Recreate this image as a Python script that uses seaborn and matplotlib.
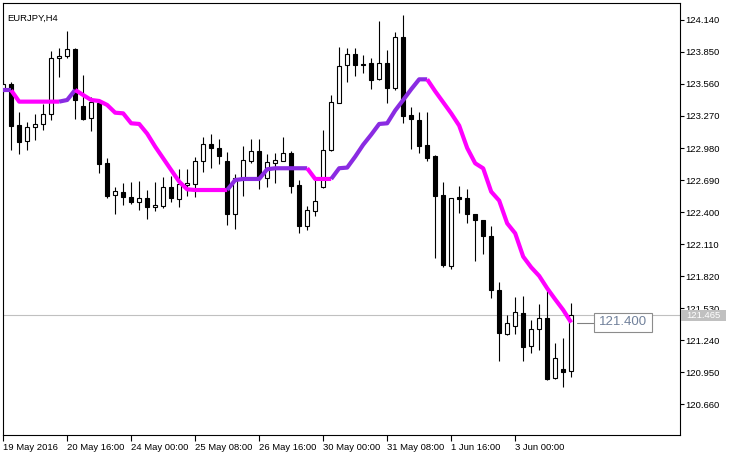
import numpy as np
import pandas as pd
import matplotlib
matplotlib.use('Agg')
import matplotlib.pyplot as plt
from matplotlib.patches import Rectangle
import seaborn as sns

# EURJPY H4 candles
opens = [123.512, 123.557, 123.189, 123.041, 123.174, 123.195, 123.285, 123.792, 123.816, 123.877,
         123.361, 123.249, 123.385, 122.842, 122.552, 122.579, 122.534, 122.495, 122.525, 122.443,
         122.458, 122.624, 122.516, 122.645, 122.652, 122.860, 123.014, 122.978, 122.860, 122.380,
         122.706, 122.863, 122.953, 122.706, 122.848, 122.863, 122.932, 122.646, 122.274, 122.413,
         122.630, 122.962, 123.391, 123.729, 123.829, 123.738, 123.750, 123.602, 123.750, 123.521,
         123.982, 123.279, 123.234, 123.008, 122.911, 122.555, 121.912, 122.534, 122.525, 122.380,
         122.326, 122.187, 121.692, 121.293, 121.366, 121.484, 121.188, 121.339, 121.438, 120.895,
         120.980, 120.961]
highs = [123.600, 123.581, 123.303, 123.219, 123.285, 123.376, 123.859, 123.889, 124.040, 123.883,
         123.641, 123.445, 123.415, 122.887, 122.630, 122.667, 122.676, 122.682, 122.600, 122.670,
         122.721, 122.730, 122.787, 122.790, 122.896, 123.083, 123.110, 123.065, 122.947, 122.745,
         122.999, 123.059, 123.059, 122.923, 122.938, 123.083, 122.953, 122.691, 122.455, 122.697,
         123.144, 123.460, 123.898, 123.889, 123.889, 123.823, 123.792, 124.130, 123.868, 124.028,
         124.185, 123.355, 123.310, 123.303, 122.917, 122.670, 122.530, 122.636, 122.606, 122.385,
         122.330, 122.277, 121.764, 121.466, 121.632, 121.644, 121.423, 121.571, 121.695, 121.212,
         121.257, 121.574]
lows = [123.480, 122.962, 122.923, 122.962, 123.053, 123.143, 123.234, 123.626, 123.792, 123.243,
        123.234, 123.137, 122.751, 122.531, 122.380, 122.464, 122.470, 122.419, 122.338, 122.410,
        122.440, 122.492, 122.449, 122.546, 122.540, 122.760, 122.796, 122.836, 122.283, 122.250,
        122.546, 122.848, 122.606, 122.624, 122.661, 122.863, 122.570, 122.214, 122.238, 122.365,
        122.620, 122.950, 123.385, 123.581, 123.635, 123.663, 123.512, 123.600, 123.391, 123.506,
        123.204, 122.968, 122.932, 122.866, 121.988, 121.906, 121.888, 122.395, 122.298, 121.960,
        122.018, 121.619, 121.055, 121.284, 121.293, 121.055, 121.121, 121.152, 120.880, 120.886,
        120.820, 120.910]
closes = [123.557, 123.183, 123.038, 123.171, 123.198, 123.285, 123.792, 123.816, 123.874, 123.415,
          123.246, 123.397, 122.839, 122.549, 122.591, 122.540, 122.492, 122.525, 122.449, 122.464,
          122.624, 122.525, 122.652, 122.660, 122.860, 123.014, 122.978, 122.911, 122.380, 122.706,
          122.869, 122.953, 122.706, 122.854, 122.869, 122.932, 122.637, 122.274, 122.419, 122.501,
          122.959, 123.394, 123.720, 123.829, 123.729, 123.729, 123.599, 123.750, 123.521, 123.982,
          123.273, 123.240, 123.002, 122.887, 122.549, 121.921, 122.525, 122.522, 122.380, 122.326,
          122.187, 121.692, 121.303, 121.399, 121.493, 121.182, 121.342, 121.438, 120.892, 121.076,
          120.949, 121.466]

# indicator line values per bar
indicator = [123.503, 123.503, 123.400, 123.400, 123.400, 123.400, 123.400, 123.400, 123.415, 123.506,
             123.460, 123.415, 123.406, 123.370, 123.300, 123.294, 123.204, 123.198, 123.110, 122.993,
             122.887, 122.781, 122.676, 122.606, 122.600, 122.600, 122.600, 122.600, 122.600, 122.690,
             122.700, 122.700, 122.700, 122.788, 122.797, 122.797, 122.797, 122.797, 122.797, 122.700,
             122.700, 122.700, 122.797, 122.803, 122.902, 123.010, 123.101, 123.198, 123.204, 123.320,
             123.415, 123.512, 123.602, 123.602, 123.494, 123.394, 123.294, 123.183, 122.980, 122.842,
             122.796, 122.585, 122.504, 122.298, 122.208, 121.997, 121.900, 121.822, 121.710, 121.610,
             121.514, 121.400]

bid = 121.465
last_value = 121.400
yticks = [120.660, 120.950, 121.240, 121.530, 121.820, 122.110, 122.400, 122.690, 122.980,
          123.270, 123.560, 123.850, 124.140]
xtick_pos = [0, 8, 16, 24, 32, 40, 48, 56, 64]
xtick_labels = ['19 May 2016', '20 May 16:00', '24 May 00:00', '25 May 08:00', '26 May 16:00',
                '30 May 00:00', '31 May 08:00', '1 Jun 16:00', '3 Jun 00:00']

df = pd.DataFrame({'open': opens, 'high': highs, 'low': lows, 'close': closes})
df['bar'] = np.arange(len(df))

UP = '#8A2BE2'
DOWN = '#FF00FF'

sns.set_style('white')
plt.rcParams['font.family'] = ['Liberation Sans', 'DejaVu Sans']

W, H = 732, 455
fig = plt.figure(figsize=(W / 100, H / 100), dpi=100)
ax = fig.add_axes([3 / W, (H - 435) / H, 677 / W, 432 / H])

# bid line
ax.axhline(bid, color='#C0C0C0', lw=0.8, zorder=1)

# candles: wicks first, bodies on top
ax.vlines(df['bar'], df['low'], df['high'], color='black', lw=0.8, zorder=2)
bull = df['close'] >= df['open']
body_h = (df['close'] - df['open']).abs().clip(lower=0.004)
body_b = df[['open', 'close']].min(axis=1)
ax.bar(df['bar'][bull], body_h[bull], bottom=body_b[bull], width=0.55,
       color='white', edgecolor='black', linewidth=0.8, zorder=3)
ax.bar(df['bar'][~bull], body_h[~bull], bottom=body_b[~bull], width=0.55,
       color='black', edgecolor='black', linewidth=0.8, zorder=3)

# indicator: segment i-1 -> i coloured by direction at bar i (flat keeps colour)
ind = pd.DataFrame({'bar': np.arange(len(indicator)), 'val': indicator})
state = [UP]
for i in range(1, len(indicator)):
    d = indicator[i] - indicator[i - 1]
    state.append(UP if d > 0 else DOWN if d < 0 else state[-1])

i = 1
while i < len(indicator):
    j = i
    while j + 1 < len(indicator) and state[j + 1] == state[i]:
        j += 1
    seg = ind.iloc[i - 1:j + 1]
    sns.lineplot(data=seg, x='bar', y='val', color=state[i], lw=3.0, ax=ax,
                 solid_capstyle='butt', zorder=4, legend=False)
    i = j + 1

# last value label
ax.plot([71.75, 73.9], [last_value, last_value], color='#808080', lw=0.8, zorder=5)
ax.add_patch(Rectangle((73.9, last_value - 0.085), 7.2, 0.175, facecolor='white',
                       edgecolor='#8c8c8c', lw=0.8, zorder=5))
ax.text(77.5, last_value + 0.003, f'{last_value:.3f}', ha='center', va='center',
        fontsize=9.5, color='#71819b', zorder=6)

ax.set_xlim(-0.02, 84.6)
ax.set_ylim(120.382, 124.293)
ax.set_xlabel('')
ax.set_ylabel('')

ax.yaxis.tick_right()
ax.set_yticks(yticks)
ax.set_yticklabels([f'{v:.3f}' for v in yticks])
ax.set_xticks(xtick_pos)
ax.set_xticklabels(xtick_labels)
plt.setp(ax.get_xticklabels(), ha='left')
ax.tick_params(axis='y', direction='out', length=3, width=0.8, pad=1, labelsize=6.8,
               colors='black', right=True, left=False)
ax.tick_params(axis='x', direction='out', length=4.5, width=0.8, pad=1, labelsize=6.8,
               colors='black', bottom=True)
for sp in ax.spines.values():
    sp.set_color('black')
    sp.set_linewidth(0.8)

# bid price box on the price scale (covers part of the 121.530 label, as in MT)
fig.patches.append(Rectangle((681 / W, (H - 321) / H), 45 / W, 11 / H, transform=fig.transFigure,
                             facecolor='#C0C0C0', edgecolor='none', zorder=10))
fig.text(703.5 / W, (H - 315.5) / H, f'{bid:.3f}', ha='center', va='center', fontsize=6.8,
         color='white', zorder=11)

ax.text(0.006, 0.975, 'EURJPY,H4', transform=ax.transAxes, ha='left', va='top', fontsize=6.8,
        color='black')

fig.savefig('out.png', dpi=100)
